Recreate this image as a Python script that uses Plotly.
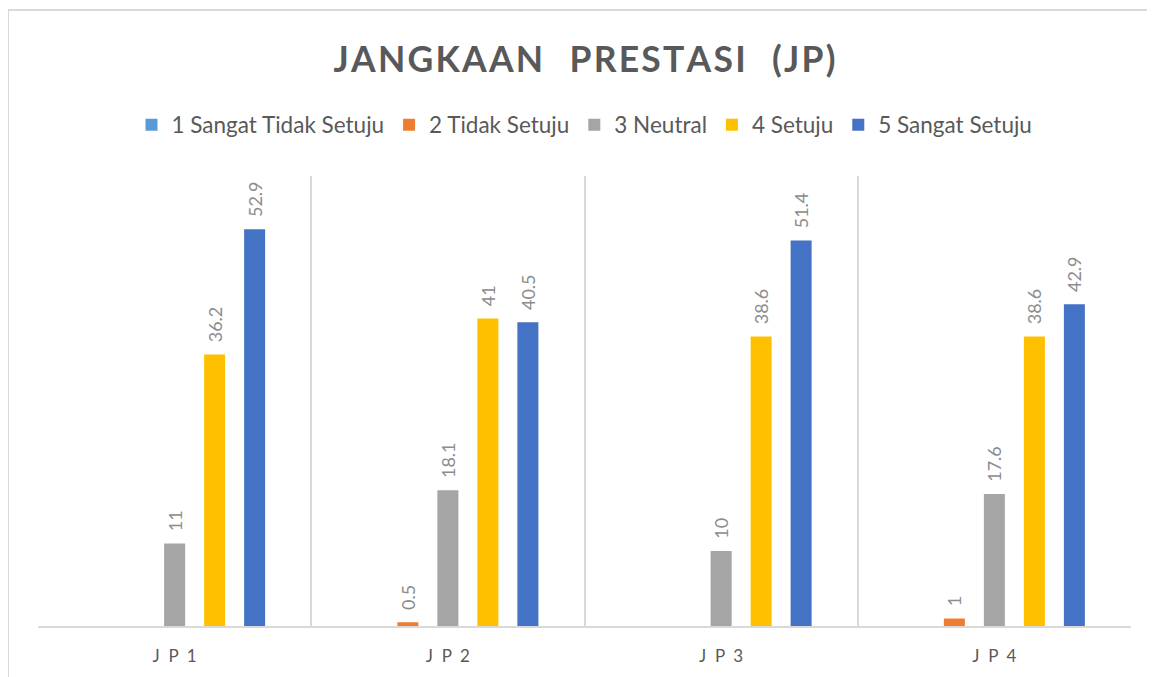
import plotly.graph_objects as go

# Data
categories = ["J\u00a0 P\u00a0 1", "J\u00a0 P\u00a0 2", "J\u00a0 P\u00a0 3", "J\u00a0 P\u00a0 4"]
series_names = ["1 Sangat Tidak Setuju", "2 Tidak Setuju", "3 Neutral", "4 Setuju", "5 Sangat Setuju"]
s1 = [None, None, None, None]
s2 = [None, 0.5, None, 1]
s3 = [11, 18.1, 10, 17.6]
s4 = [36.2, 41, 38.6, 38.6]
s5 = [52.9, 40.5, 51.4, 42.9]
colors = ["#5B9BD5", "#ED7D31", "#A5A5A5", "#FFC000", "#4472C4"]

W, H = 1155, 677
OFF = 8  # page body margin
# plot box in screenshot pixels
left, right, top, bottom = 38, 1131, 176, 626
ml, mt = left - OFF, top - OFF
mr = W - (right - OFF)
mb = H - (bottom - OFF)
pw, ph = W - ml - mr, H - mt - mb


def py(yscreen):
    return 1 + (mt - (yscreen - OFF)) / ph


def px_(xscreen):
    return (xscreen - OFF - ml) / pw


x_pos = list(range(len(categories)))
fig = go.Figure()
for name, vals, col in zip(series_names, [s1, s2, s3, s4, s5], colors):
    fig.add_trace(go.Bar(
        x=x_pos, y=vals, name=name, marker_color=col,
        marker_line_width=0,
        texttemplate="\u00a0\u00a0%{y}", textposition="outside", textangle=-90,
        constraintext="none", cliponaxis=False,
        textfont=dict(family="Lato", size=18, color="#8C8C8C"),
    ))

# hair spaces to imitate the letter-spaced title
title_txt = "\u200a".join("JANGKAAN PRESTASI (JP)").replace("\u200a \u200a", "\u2002\u00a0")

fig.update_layout(
    width=W, height=H,
    margin=dict(l=ml, r=mr, t=mt, b=mb),
    paper_bgcolor="white", plot_bgcolor="white",
    barmode="group", bargap=0.268, bargroupgap=0.475,
    title=dict(text="<b>" + title_txt + "</b>", x=0.5, xref="paper", xanchor="center",
               y=1 - (60 - OFF) / H, yanchor="middle",
               font=dict(family="Lato", size=35.5, color="#595959")),
    legend=dict(orientation="h", x=0.5, xanchor="center", y=py(125), yanchor="middle",
                font=dict(family="Lato", size=22.5, color="#595959"),
                itemwidth=30, traceorder="normal", itemclick=False),
    showlegend=True,
    xaxis=dict(
        range=[-0.5, len(categories) - 0.5],
        tickvals=x_pos, ticktext=categories,
        tickfont=dict(family="Lato", size=17, color="#595959"),
        ticklabelstandoff=14,
        showgrid=False, zeroline=False,
        showline=True, linecolor="#D9D9D9", linewidth=2,
        ticks="", ticklen=0,
        minor=dict(tickvals=[i - 0.5 for i in range(len(categories) + 1)],
                   showgrid=True, gridcolor="#D9D9D9", gridwidth=2, ticks=""),
        fixedrange=True,
    ),
    yaxis=dict(range=[0, 60], visible=False, showgrid=False, fixedrange=True),
    shapes=[
        dict(type="line", xref="paper", yref="paper",
             x0=px_(8), x1=px_(W + 20), y0=py(10), y1=py(10),
             line=dict(color="#D9D9D9", width=2)),
        dict(type="line", xref="paper", yref="paper",
             x0=px_(8), x1=px_(8), y0=py(10), y1=py(H + 20),
             line=dict(color="#D9D9D9", width=2)),
    ],
)

fig.write_html("out.html")
